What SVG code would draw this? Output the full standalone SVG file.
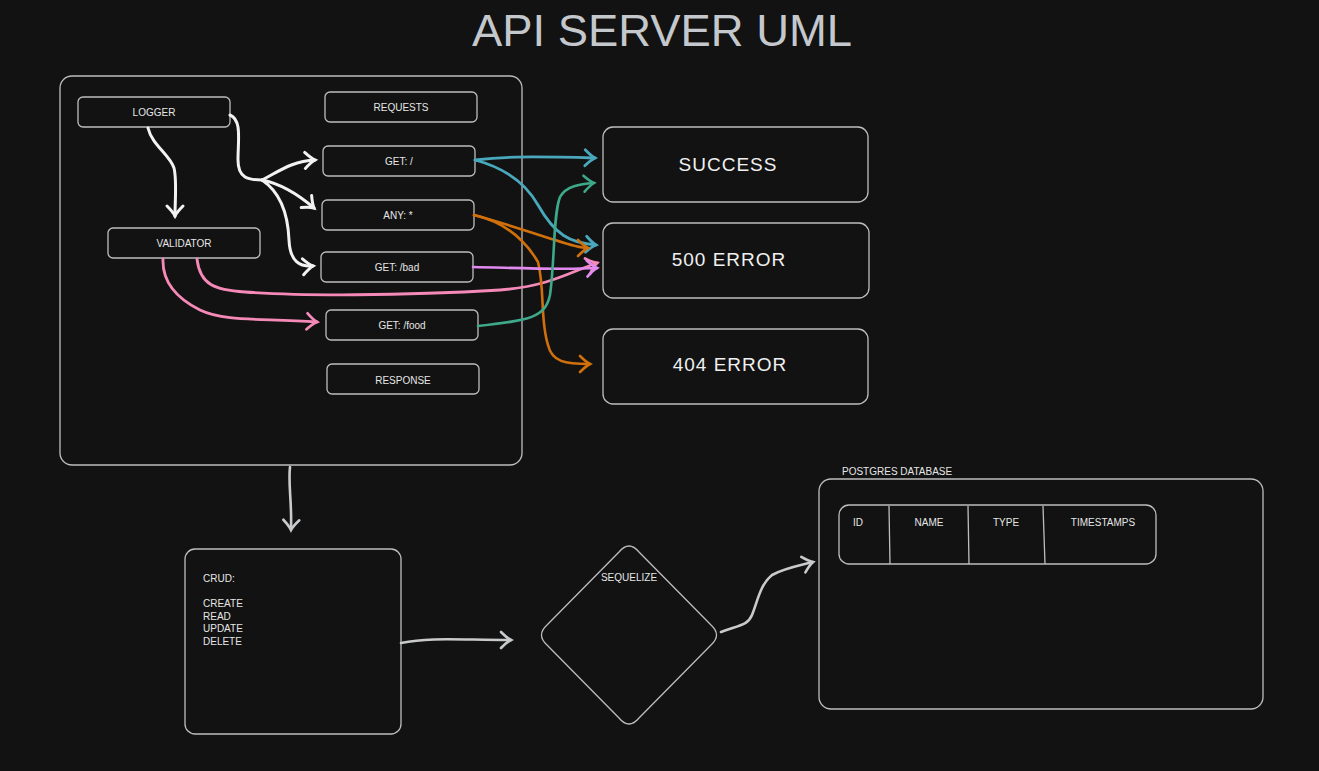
<svg xmlns="http://www.w3.org/2000/svg" width="1319" height="771" viewBox="0 0 1319 771">
<style>
.box{fill:#121212;stroke:#bdbdbd;stroke-width:1.3}
.lbl{font-family:"Liberation Sans",Arial,sans-serif;font-size:10px;fill:#e6e6e6;text-anchor:middle;dominant-baseline:middle}
.big{font-family:"Liberation Sans",Arial,sans-serif;font-size:19px;fill:#f0f0f0;text-anchor:middle;dominant-baseline:middle;letter-spacing:1px}
.txt{font-family:"Liberation Sans",Arial,sans-serif;font-size:10px;fill:#e6e6e6}
.c{fill:none;stroke-linecap:round;stroke-linejoin:round}
.w{stroke:#f2f2f2;stroke-width:3}
.g{stroke:#c8cacc;stroke-width:2.6}
.teal{stroke:#4aa8bd;stroke-width:2.8}
.or{stroke:#d0700c;stroke-width:2.6}
.pu{stroke:#e28af0;stroke-width:2.6}
.pk{stroke:#f58ab8;stroke-width:2.8}
.gr{stroke:#3ea98a;stroke-width:2.6}
</style>
<defs>
<marker id="mw" markerUnits="userSpaceOnUse" markerWidth="24" markerHeight="24" viewBox="-16 -12 24 24" refX="0" refY="0" orient="auto"><path d="M-10,-8 Q-4,-2 0,0 Q-4,2 -10,8" fill="none" stroke="#f2f2f2" stroke-width="3" stroke-linecap="round"/></marker>
<marker id="mg" markerUnits="userSpaceOnUse" markerWidth="24" markerHeight="24" viewBox="-16 -12 24 24" refX="0" refY="0" orient="auto"><path d="M-10,-8 Q-4,-2 0,0 Q-4,2 -10,8" fill="none" stroke="#c8cacc" stroke-width="2.6" stroke-linecap="round"/></marker>
<marker id="mt" markerUnits="userSpaceOnUse" markerWidth="24" markerHeight="24" viewBox="-16 -12 24 24" refX="0" refY="0" orient="auto"><path d="M-10,-8 Q-4,-2 0,0 Q-4,2 -10,8" fill="none" stroke="#4aa8bd" stroke-width="2.8" stroke-linecap="round"/></marker>
<marker id="mo" markerUnits="userSpaceOnUse" markerWidth="24" markerHeight="24" viewBox="-16 -12 24 24" refX="0" refY="0" orient="auto"><path d="M-10,-8 Q-4,-2 0,0 Q-4,2 -10,8" fill="none" stroke="#d0700c" stroke-width="2.6" stroke-linecap="round"/></marker>
<marker id="mp" markerUnits="userSpaceOnUse" markerWidth="24" markerHeight="24" viewBox="-16 -12 24 24" refX="0" refY="0" orient="auto"><path d="M-10,-8 Q-4,-2 0,0 Q-4,2 -10,8" fill="none" stroke="#e28af0" stroke-width="2.6" stroke-linecap="round"/></marker>
<marker id="mk" markerUnits="userSpaceOnUse" markerWidth="24" markerHeight="24" viewBox="-16 -12 24 24" refX="0" refY="0" orient="auto"><path d="M-10,-8 Q-4,-2 0,0 Q-4,2 -10,8" fill="none" stroke="#f58ab8" stroke-width="2.8" stroke-linecap="round"/></marker>
<marker id="mr" markerUnits="userSpaceOnUse" markerWidth="24" markerHeight="24" viewBox="-16 -12 24 24" refX="0" refY="0" orient="auto"><path d="M-10,-8 Q-4,-2 0,0 Q-4,2 -10,8" fill="none" stroke="#3ea98a" stroke-width="2.6" stroke-linecap="round"/></marker>
</defs>
<rect width="1319" height="771" fill="#121212"/>
<text x="662" y="46" font-family="Liberation Sans, Arial, sans-serif" font-size="45" fill="#c4c8cc" text-anchor="middle" textLength="380" lengthAdjust="spacingAndGlyphs">API SERVER UML</text>

<g id="api-server"><rect class="box" x="60" y="76" width="462" height="389" rx="12"/></g>
<g id="logger"><rect class="box" x="78" y="97" width="152" height="30" rx="5"/><text class="lbl" x="154" y="113">LOGGER</text></g>
<g id="requests"><rect class="box" x="325" y="92" width="152" height="30" rx="5"/><text class="lbl" x="401" y="108">REQUESTS</text></g>
<g id="get-root"><rect class="box" x="323" y="146" width="152" height="30" rx="5"/><text class="lbl" x="399" y="162">GET: /</text></g>
<g id="any"><rect class="box" x="322" y="200" width="152" height="30" rx="5"/><text class="lbl" x="398" y="216">ANY: *</text></g>
<g id="validator"><rect class="box" x="108" y="228" width="152" height="30" rx="5"/><text class="lbl" x="184" y="244">VALIDATOR</text></g>
<g id="get-bad"><rect class="box" x="321" y="252" width="152" height="30" rx="5"/><text class="lbl" x="397" y="268">GET: /bad</text></g>
<g id="get-food"><rect class="box" x="326" y="310" width="152" height="30" rx="5"/><text class="lbl" x="402" y="326">GET: /food</text></g>
<g id="response"><rect class="box" x="327" y="364" width="152" height="30" rx="5"/><text class="lbl" x="403" y="381">RESPONSE</text></g>

<g id="success"><rect class="box" x="603" y="127" width="265" height="75" rx="10"/><text class="big" x="728" y="166">SUCCESS</text></g>
<g id="err500"><rect class="box" x="603" y="223" width="266" height="75" rx="10"/><text class="big" x="729" y="261">500 ERROR</text></g>
<g id="err404"><rect class="box" x="603" y="329" width="265" height="75" rx="10"/><text class="big" x="730" y="366">404 ERROR</text></g>

<g id="crud"><rect class="box" x="185" y="549" width="216" height="185" rx="10"/>
<text class="txt" x="203" y="582">CRUD:</text>
<text class="txt" x="203" y="607">CREATE</text>
<text class="txt" x="203" y="620">READ</text>
<text class="txt" x="203" y="632">UPDATE</text>
<text class="txt" x="203" y="645">DELETE</text></g>

<g id="sequelize"><path class="box" d="M619,552 Q629,540 639,552 L711,625 Q722,635 711,645 L639,718 Q629,730 619,718 L547,645 Q536,635 547,625 Z"/><text class="lbl" x="629" y="578">SEQUELIZE</text></g>

<g id="postgres"><text class="txt" x="842" y="475">POSTGRES DATABASE</text>
<rect class="box" x="819" y="479" width="444" height="230" rx="12"/>
<rect class="box" x="839" y="505" width="317" height="59" rx="10"/>
<line x1="889" y1="506" x2="890" y2="564" stroke="#bdbdbd" stroke-width="1.3"/>
<line x1="968" y1="506" x2="969" y2="564" stroke="#bdbdbd" stroke-width="1.3"/>
<line x1="1043" y1="506" x2="1045" y2="564" stroke="#bdbdbd" stroke-width="1.3"/>
<text class="lbl" x="858" y="523">ID</text>
<text class="lbl" x="929" y="523">NAME</text>
<text class="lbl" x="1006" y="523">TYPE</text>
<text class="lbl" x="1103" y="523">TIMESTAMPS</text></g>

<g id="connectors">
<path class="c w" marker-end="url(#mw)" d="M148,128 C152,145 170,155 174,168 C177,180 175,200 175,216"/>
<path class="c w" d="M230,115 C242,120 238,140 238,160 C238,178 248,180 262,180"/>
<path class="c w" marker-end="url(#mw)" d="M262,180 C278,172 292,161 315,160"/>
<path class="c w" marker-end="url(#mw)" d="M262,180 C282,184 300,196 314,208"/>
<path class="c w" marker-end="url(#mw)" d="M262,180 C280,192 288,215 289,240 C290,262 300,267 313,266"/>
<path class="c pk" marker-end="url(#mk)" d="M163,259 C162,285 180,300 200,310 C225,322 260,318 317,322"/>
<path class="c pk" marker-end="url(#mk)" d="M197,259 C200,285 215,290 245,292 C300,296 400,296 500,290 C550,286 570,272 597,263"/>
<path class="c teal" marker-end="url(#mt)" d="M475,160 C500,157 520,156 595,158"/>
<path class="c teal" marker-end="url(#mt)" d="M475,160 C505,168 525,182 538,205 C555,235 570,243 596,245"/>
<path class="c or" marker-end="url(#mo)" d="M474,215 C500,222 530,232 555,240 C570,245 580,248 588,248"/>
<path class="c or" marker-end="url(#mo)" d="M474,215 C505,222 525,240 538,262 C545,290 540,320 548,345 C552,362 565,364 590,364"/>
<path class="c pu" marker-end="url(#mp)" d="M473,267 C520,268 560,270 597,268"/>
<path class="c gr" marker-end="url(#mr)" d="M478,326 C530,320 545,318 550,295 C555,260 553,215 560,197 C566,186 580,184 594,183"/>
<path class="c g" marker-end="url(#mg)" d="M290,467 C288,485 292,500 291,530"/>
<path class="c g" marker-end="url(#mg)" d="M401,643 C430,637 460,640 511,640"/>
<path class="c g" marker-end="url(#mg)" d="M721,632 C740,625 748,625 752,615 C758,600 760,585 772,575 C785,568 798,566 813,562"/>
</g>
</svg>
